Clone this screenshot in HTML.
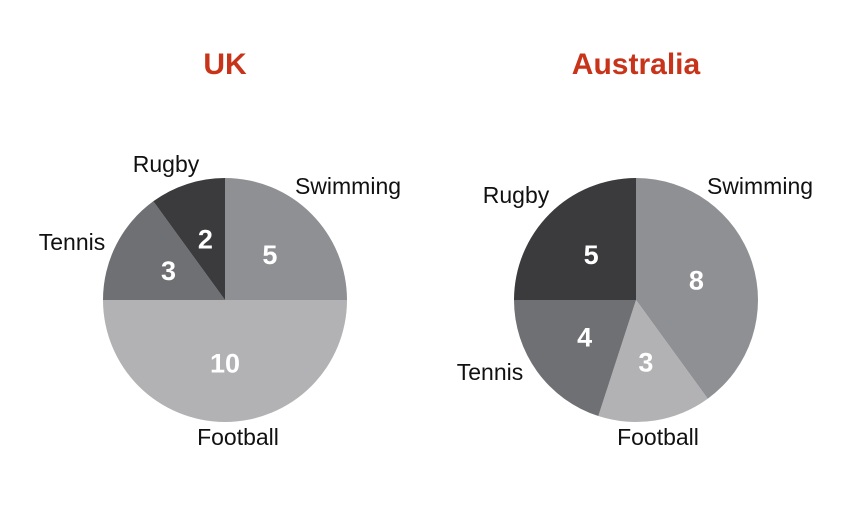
<!DOCTYPE html>
<html><head><meta charset="utf-8"><style>
body{margin:0;background:#fff;}
svg{display:block;font-family:"Liberation Sans",Arial,sans-serif;}
</style></head><body>
<svg id="c" width="849" height="530" viewBox="0 0 849 530">
<text x="225" y="74" text-anchor="middle" font-size="30" font-weight="bold" fill="#c8341a">UK</text>
<text x="636" y="74" text-anchor="middle" font-size="30" font-weight="bold" fill="#c8341a">Australia</text>
</svg>
<script>
const categories = ["Swimming","Football","Tennis","Rugby"];
const ukValues = [5,10,3,2];
const auValues = [8,3,4,5];
const colors = {Swimming:"#8f9094",Football:"#b2b2b4",Tennis:"#6f7073",Rugby:"#3b3b3d"};
const ukLabelPos = [[348,194,"middle"],[238,445,"middle"],[72,250,"middle"],[166,172,"middle"]];
const auLabelPos = [[760,194,"middle"],[658,445,"middle"],[490,380,"middle"],[516,203,"middle"]];
const svg = document.getElementById('c');
const NS = "http://www.w3.org/2000/svg";
function pt(cx,cy,r,a){return [cx+r*Math.sin(a), cy-r*Math.cos(a)];}
function drawPie(prefix,vals,cx,cy,r,labelPos){
  const total = vals.reduce((a,b)=>a+b,0);
  let a0 = 0;
  vals.forEach((v,i)=>{
    const a1 = a0 + v/total*2*Math.PI;
    const p0 = pt(cx,cy,r,a0), p1 = pt(cx,cy,r,a1);
    const large = (a1-a0)>Math.PI?1:0;
    const path = document.createElementNS(NS,'path');
    path.setAttribute('d',`M${cx},${cy} L${p0[0]},${p0[1]} A${r},${r} 0 ${large} 1 ${p1[0]},${p1[1]} Z`);
    path.setAttribute('fill',colors[categories[i]]);
    
    
    svg.appendChild(path);
    const mid=(a0+a1)/2;
    const lp = pt(cx,cy,r*0.52,mid);
    const t = document.createElementNS(NS,'text');
    t.setAttribute('x',lp[0]); t.setAttribute('y',lp[1]+9);
    t.setAttribute('text-anchor','middle'); t.setAttribute('font-size','27');
    t.setAttribute('font-weight','bold'); t.setAttribute('fill','#fff');
    t.textContent = v;
    
    
    svg.appendChild(t);
    const L = labelPos[i];
    const n = document.createElementNS(NS,'text');
    n.setAttribute('x',L[0]); n.setAttribute('y',L[1]);
    n.setAttribute('text-anchor',L[2]); n.setAttribute('font-size','23'); n.setAttribute('fill','#111');
    n.textContent = categories[i];
    
    
    svg.appendChild(n);
    a0 = a1;
  });
}
drawPie('uk',ukValues,225,300,122,ukLabelPos);
drawPie('au',auValues,636,300,122,auLabelPos);
</script>
</body></html>
